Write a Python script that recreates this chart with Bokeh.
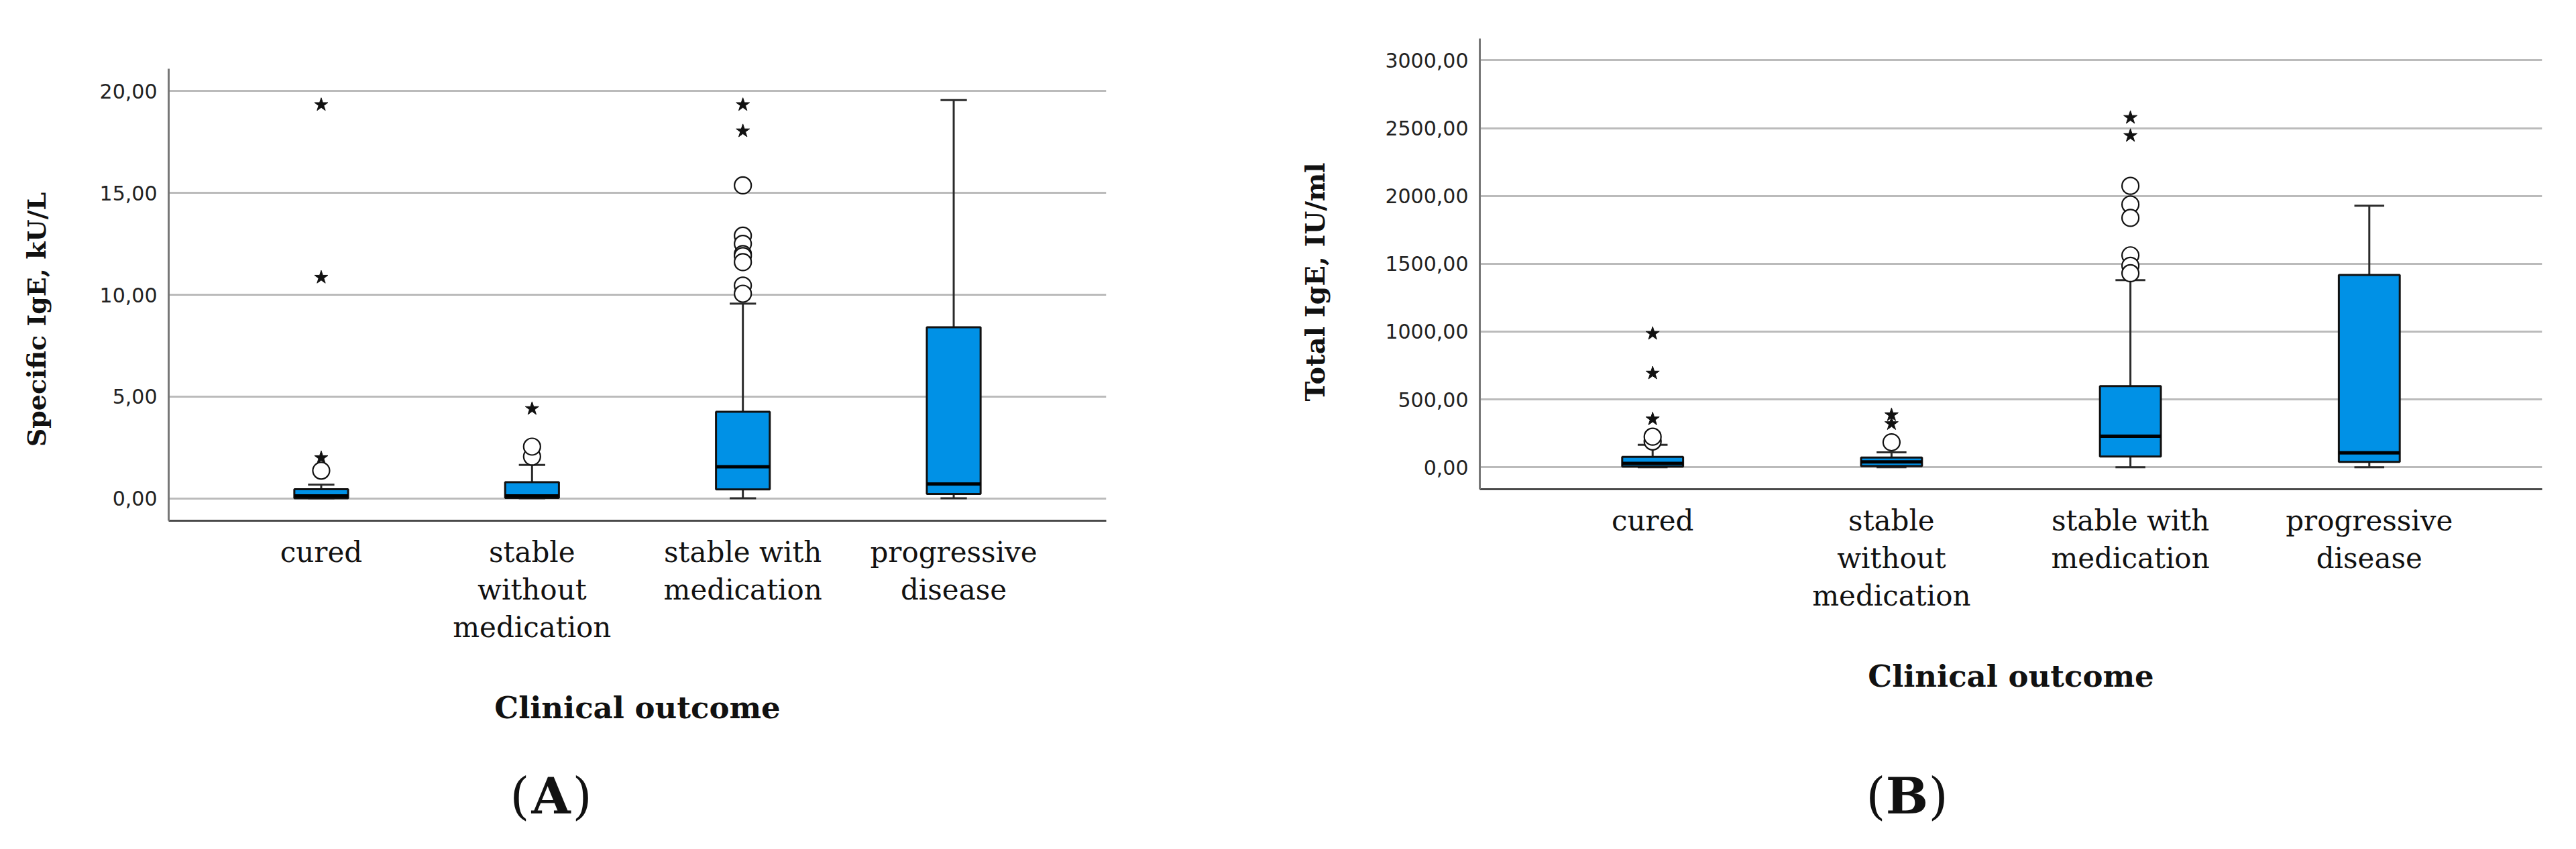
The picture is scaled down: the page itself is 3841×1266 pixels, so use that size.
from math import pi
from bokeh.plotting import figure
from bokeh.layouts import row, column
from bokeh.models import FixedTicker, Label, Range1d
from bokeh.core.properties import value
from bokeh.embed import file_html
from bokeh.resources import INLINE

# ---------------- data ----------------
categories = ["cured", "stable\nwithout\nmedication", "stable with\nmedication", "progressive\ndisease"]
positions = [1, 2, 3, 4]

# Panel A: Specific IgE, kU/L
a_q1 = [0.00, 0.02, 0.44, 0.22]
a_med = [0.12, 0.12, 1.55, 0.70]
a_q3 = [0.45, 0.79, 4.25, 8.40]
a_lo = [0.00, 0.00, 0.00, 0.00]
a_hi = [0.67, 1.64, 9.56, 19.56]
a_out_x = [1, 2, 2, 3, 3, 3, 3, 3, 3, 3, 3]
a_out_y = [1.36, 2.05, 2.54, 15.37, 12.9, 12.5, 12.0, 11.9, 11.6, 10.45, 10.05]
a_ext_x = [1, 1, 1, 2, 3, 3]
a_ext_y = [1.99, 10.85, 19.33, 4.40, 18.04, 19.33]
a_ticks = [0, 5, 10, 15, 20]
a_tick_labels = ["0,00", "5,00", "10,00", "15,00", "20,00"]

# Panel B: Total IgE, IU/ml
b_q1 = [5, 8, 79, 40]
b_med = [28, 40, 229, 106]
b_q3 = [77, 72, 598, 1418]
b_lo = [0, 0, 0, 0]
b_hi = [166, 110, 1379, 1928]
b_out_x = [1, 1, 2, 3, 3, 3, 3, 3, 3]
b_out_y = [190, 225, 184, 2074, 1937, 1838, 1562, 1485, 1430]
b_ext_x = [1, 1, 1, 2, 2, 3, 3]
b_ext_y = [355, 693, 985, 320, 385, 2444, 2577]
b_ticks = [0, 500, 1000, 1500, 2000, 2500, 3000]
b_tick_labels = ["0,00", "500,00", "1000,00", "1500,00", "2000,00", "2500,00", "3000,00"]

a_ytitle = "Specific IgE, kU/L"
b_ytitle = "Total IgE, IU/ml"
xtitle = "Clinical outcome"

BOX_FILL = "#0091E6"
SERIF = "DejaVu Serif"
SANS = "DejaVu Sans"
XR = (1 - 0.7235, 4 + 0.7235)
MAIN_H = 1112
TITLE_W = 120


def no_align(p):
    try:
        p.frame_align = False
    except Exception:
        pass


def bare(p):
    no_align(p)
    p.axis.visible = False
    p.grid.visible = False
    p.outline_line_color = None


def make_panel(q1, med, q3, lo, hi, ox, oy, ex, ey, ticks, tick_labels, yr,
               fw, fh, bl, br, bt):
    bb = MAIN_H - bt - fh
    p = figure(frame_width=fw, frame_height=fh,
               min_border_left=bl, min_border_right=br,
               min_border_top=bt, min_border_bottom=bb,
               x_range=Range1d(*XR), y_range=Range1d(*yr),
               output_backend="svg", toolbar_location=None)
    no_align(p)
    p.outline_line_color = None
    p.background_fill_color = "white"
    p.border_fill_color = "white"

    # grid
    p.xgrid.visible = False
    p.ygrid.ticker = FixedTicker(ticks=ticks)
    p.ygrid.grid_line_color = "#BBBBBB"
    p.ygrid.grid_line_width = 3

    # axes
    p.yaxis.ticker = FixedTicker(ticks=ticks)
    p.yaxis.major_label_overrides = {t: l for t, l in zip(ticks, tick_labels)}
    p.xaxis.ticker = FixedTicker(ticks=positions)
    p.xaxis.major_label_overrides = {t: c for t, c in zip(positions, categories)}
    for ax in (p.xaxis, p.yaxis):
        ax.major_tick_out = 0
        ax.major_tick_in = 0
        ax.minor_tick_out = 0
        ax.minor_tick_in = 0
        ax.axis_line_width = 3
    p.yaxis.axis_line_color = "#777777"
    p.xaxis.axis_line_color = "#4A4A4A"
    p.yaxis.major_label_text_font = SANS
    p.yaxis.major_label_text_font_size = "30px"
    p.yaxis.major_label_text_color = "#222222"
    p.yaxis.major_label_standoff = 17
    p.xaxis.major_label_text_font = SERIF
    p.xaxis.major_label_text_font_size = "42px"
    p.xaxis.major_label_text_color = "#111111"
    p.xaxis.major_label_standoff = 22
    p.xaxis.major_label_text_line_height = 1.15

    p.xaxis.axis_label = xtitle
    p.xaxis.axis_label_text_font = SERIF
    p.xaxis.axis_label_text_font_style = "bold"
    p.xaxis.axis_label_text_font_size = "45px"
    p.xaxis.axis_label_text_color = "#111111"
    p.xaxis.axis_label_standoff = 66

    # whiskers
    p.segment(x0=positions, y0=q3, x1=positions, y1=hi, line_color="#2B2B2B", line_width=3)
    p.segment(x0=positions, y0=q1, x1=positions, y1=lo, line_color="#2B2B2B", line_width=3)
    cap = 0.0625
    p.segment(x0=[x - cap for x in positions], y0=hi, x1=[x + cap for x in positions], y1=hi,
              line_color="#2B2B2B", line_width=3)
    p.segment(x0=[x - cap for x in positions], y0=lo, x1=[x + cap for x in positions], y1=lo,
              line_color="#2B2B2B", line_width=3)
    # boxes
    p.vbar(x=positions, bottom=q1, top=q3, width=0.255, fill_color=BOX_FILL,
           line_color="#111111", line_width=3)
    # medians
    p.rect(x=positions, y=med, width=0.255, height=5, height_units="screen",
           fill_color="#000000", line_color=None)
    # outliers and extremes
    p.scatter(x=ox, y=oy, marker="circle", size=25, fill_color="white",
              line_color="#111111", line_width=2.2)
    p.scatter(x=ex, y=ey, marker="star", size=21, fill_color="#111111",
              line_color="#111111", line_width=1)
    return p


def make_ytitle(text, cx, cy, size):
    p = figure(frame_width=TITLE_W, frame_height=MAIN_H,
               min_border_left=0, min_border_right=0, min_border_top=0, min_border_bottom=0,
               x_range=Range1d(0, TITLE_W), y_range=Range1d(0, MAIN_H),
               output_backend="svg", toolbar_location=None)
    bare(p)
    p.text(x=[cx], y=[cy], text=[text], angle=pi / 2, text_font=value(SERIF),
           text_font_style="bold", text_font_size=size, text_align="center",
           text_baseline="middle", text_color="#111111")
    return p


def make_letter(letter, letter_x, fw, bl, br, h, base_y):
    p = figure(frame_width=fw, frame_height=h,
               min_border_left=bl, min_border_right=br,
               min_border_top=0, min_border_bottom=0,
               x_range=Range1d(*XR), y_range=Range1d(0, h),
               output_backend="svg", toolbar_location=None)
    bare(p)
    p.add_layout(Label(x=letter_x, y=base_y, text=letter, text_font=SERIF,
                       text_font_style="bold", text_font_size="75px", text_align="center",
                       text_baseline="alphabetic", text_color="#111111"))
    p.add_layout(Label(x=letter_x, y=base_y, x_offset=-32, text="(", text_font=SERIF,
                       text_font_size="75px", text_align="right",
                       text_baseline="alphabetic", text_color="#111111"))
    p.add_layout(Label(x=letter_x, y=base_y, x_offset=32, text=")", text_font=SERIF,
                       text_font_size="75px", text_align="left",
                       text_baseline="alphabetic", text_color="#111111"))
    return p


pA = make_panel(a_q1, a_med, a_q3, a_lo, a_hi, a_out_x, a_out_y, a_ext_x, a_ext_y,
                a_ticks, a_tick_labels, (-1.10, 21.1),
                1398, 674, 251 - TITLE_W, 243, 102)
pB = make_panel(b_q1, b_med, b_q3, b_lo, b_hi, b_out_x, b_out_y, b_ext_x, b_ext_y,
                b_ticks, b_tick_labels, (-162, 3160),
                1584, 672, 314 - TITLE_W, 35, 57)
tA = make_ytitle(a_ytitle, 54, MAIN_H - 476, "38px")
tB = make_ytitle(b_ytitle, 68, MAIN_H - 420, "40px")
lA = make_letter("A", 2.09, 1398, 251, 243, 136, 62)
lB = make_letter("B", 2.065, 1584, 314, 35, 136, 62)

layout = row(column(row(tA, pA), lA), column(row(tB, pB), lB))
open("out.html", "w").write(file_html(layout, INLINE))
